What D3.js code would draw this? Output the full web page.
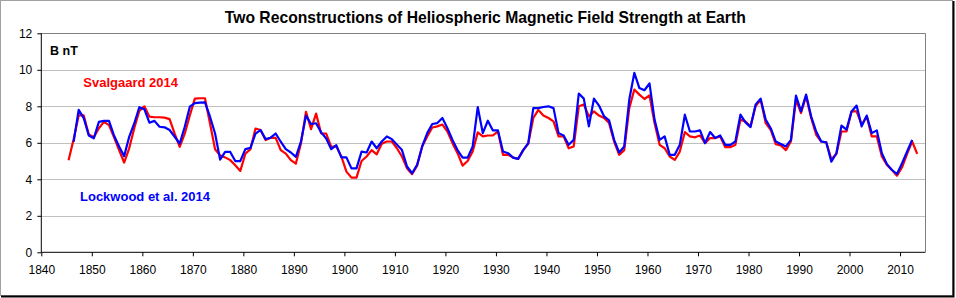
<!doctype html>
<html>
  <head>
    <meta charset="utf-8">
    <title>Heliospheric Magnetic Field</title>
    <script src="https://cdn.jsdelivr.net/npm/d3@7"></script>
    <style>
      body { margin: 0; background: #fff; }
      svg { display: block; font-family: Arial, "Liberation Sans", sans-serif; }
      .grid line { stroke: #c0c0c0; stroke-width: 1; }
      .axis text { font-size: 12px; fill: #000; }
      .axis path, .axis line { stroke: #000; }
    </style>
  </head>
  <body>
    <div id="chart"></div>
    <script>
      // annual values, plotted a bit after Jan 1 like the original sheet
      var svalgaardStart = 1845;
      var svalgaard = [
        5.05, 6.2, 7.5, 7.5, 6.45, 6.3, 6.8, 7.15, 6.97, 6.3,
        5.6, 4.92, 5.7, 6.8, 7.74, 8.0, 7.43, 7.4, 7.4, 7.38,
        7.3, 6.5, 5.78, 6.5, 7.5, 8.42, 8.44, 8.44, 7.06, 5.65,
        5.32, 5.2, 5.05, 4.77, 4.46, 5.4, 5.65, 6.78, 6.7, 6.15,
        6.28, 6.27, 5.6, 5.41, 5.05, 4.86, 5.96, 7.7, 6.75, 7.6,
        6.51, 6.5, 5.78, 5.8, 5.25, 4.42, 4.09, 4.09, 5.0, 5.25,
        5.6, 5.37, 5.95, 6.07, 6.07, 5.7, 5.25, 4.6, 4.28, 4.75,
        5.8, 6.35, 6.84, 6.9, 7.0, 6.62, 5.98, 5.43, 4.75, 5.0,
        5.52, 6.57, 6.35, 6.4, 6.4, 6.62, 5.34, 5.34, 5.19, 5.12,
        5.6, 5.95, 7.36, 7.8, 7.5, 7.36, 7.17, 6.35, 6.35, 5.7,
        5.8, 8.0, 8.1, 7.45, 7.72, 7.49, 7.36, 7.08, 6.07, 5.34,
        5.6, 7.9, 8.92, 8.64, 8.4, 8.6, 7.08, 5.89, 5.7, 5.25,
        5.06, 5.52, 6.59, 6.35, 6.3, 6.4, 5.98, 6.26, 6.26, 6.35,
        5.76, 5.76, 5.89, 7.27, 7.17, 6.9, 8.0, 8.37, 7.08, 6.71,
        5.93, 5.85, 5.6, 6.07, 8.37, 7.63, 8.55, 7.36, 6.44, 6.07,
        6.02, 5.1, 5.39, 6.62, 6.62, 7.72, 7.72, 6.99, 7.45, 6.35,
        6.35, 5.25, 4.79, 4.51, 4.2, 4.66, 5.39, 6.07, 5.39
      ];
      var lockwoodStart = 1846;
      var lockwood = [
        6.05, 7.8, 7.35, 6.4, 6.25, 7.15, 7.2, 7.2, 6.4,
        5.8, 5.27, 6.33, 7.06, 7.95, 7.84, 7.1, 7.2, 6.88, 6.85,
        6.7, 6.33, 5.96, 6.88, 7.98, 8.17, 8.2, 8.22, 7.43, 6.51,
        5.08, 5.5, 5.5, 5.0, 5.0, 5.65, 5.72, 6.5, 6.7, 6.2,
        6.28, 6.51, 6.06, 5.65, 5.47, 5.23, 6.06, 7.49, 7.03, 7.07,
        6.57, 6.24, 5.65, 5.87, 5.2, 5.2, 4.6, 4.6, 5.52, 5.47,
        6.07, 5.7, 6.07, 6.35, 6.2, 5.9, 5.6, 4.7, 4.33, 4.8,
        5.8, 6.53, 7.03, 7.08, 7.36, 6.8, 6.16, 5.6, 5.19, 5.19,
        5.8, 7.96, 6.53, 7.21, 6.68, 6.68, 5.52, 5.43, 5.19, 5.12,
        5.6, 5.98, 7.9, 7.9, 7.96, 8.0, 7.9, 6.53, 6.4, 5.89,
        6.16, 8.7, 8.42, 6.9, 8.42, 8.04, 7.45, 7.23, 6.16, 5.47,
        5.8, 8.37, 9.83, 9.0, 8.88, 9.25, 7.27, 6.16, 6.35, 5.34,
        5.34, 5.89, 7.54, 6.62, 6.62, 6.68, 5.98, 6.59, 6.26, 6.4,
        5.89, 5.89, 6.07, 7.54, 7.12, 6.86, 8.09, 8.42, 7.27, 6.8,
        6.07, 5.94, 5.8, 6.16, 8.59, 7.72, 8.64, 7.45, 6.62, 6.07,
        6.02, 4.97, 5.43, 6.94, 6.72, 7.72, 8.04, 6.9, 7.49, 6.53,
        6.68, 5.43, 4.83, 4.51, 4.29, 4.88, 5.52, 6.16
      ];
      var xTicks = [1840, 1850, 1860, 1870, 1880, 1890, 1900, 1910, 1920, 1930,
                    1940, 1950, 1960, 1970, 1980, 1990, 2000, 2010];
      var yTicks = [0, 2, 4, 6, 8, 10, 12];

      (function() {
        var width = 956, height = 298;
        var plotLeft = 41.3, plotRight = 925.3, plotTop = 33.3, plotBottom = 252.3;

        var svg = d3.select('#chart').append('svg')
          .attr('width', width)
          .attr('height', height);

        // chart area frame
        svg.append('rect')
          .attr('x', 0.5).attr('y', 0.5)
          .attr('width', 952).attr('height', 295)
          .attr('fill', '#fff').attr('stroke', '#a0a0a0');
        svg.append('path')
          .attr('d', 'M953.5,1V297.5M1,296.5H954')
          .attr('stroke', '#000').attr('stroke-width', 2).attr('fill', 'none');

        var x = d3.scaleLinear().domain([1840, 2015]).range([plotLeft, plotRight]);
        var y = d3.scaleLinear().domain([0, 12]).range([plotBottom, plotTop]);

        svg.append('g')
          .attr('class', 'grid')
          .selectAll('line')
          .data(yTicks.filter(function(d) { return d > 0; }))
          .enter().append('line')
          .attr('x1', plotLeft).attr('x2', plotRight)
          .attr('y1', function(d) { return Math.round(y(d)) + 0.5; })
          .attr('y2', function(d) { return Math.round(y(d)) + 0.5; });

        // grey plot border (top/right)
        svg.append('path')
          .attr('d', 'M' + plotLeft + ',' + (Math.round(plotTop) + 0.5) + 'H' + (Math.round(plotRight) + 0.5) + 'V' + plotBottom)
          .attr('stroke', '#808080').attr('fill', 'none');

        var line = d3.line()
          .x(function(d) { return x(d[0] + 0.4); })
          .y(function(d) { return y(d[1]); });

        var redPts = svalgaard.map(function(v, i) { return [svalgaardStart + i, v]; });
        var bluePts = lockwood.map(function(v, i) { return [lockwoodStart + i, v]; });

        svg.append('path')
          .datum(redPts)
          .attr('d', line)
          .attr('fill', 'none')
          .attr('stroke', '#ff0000')
          .attr('stroke-width', 2.2)
          .attr('stroke-linejoin', 'round');

        svg.append('path')
          .datum(bluePts)
          .attr('d', line)
          .attr('fill', 'none')
          .attr('stroke', '#0000ff')
          .attr('stroke-width', 2.2)
          .attr('stroke-linejoin', 'round');

        var yAxis = d3.axisLeft(y).tickValues(yTicks).tickSize(4).tickPadding(5).tickFormat(d3.format('d'));
        svg.append('g')
          .attr('class', 'axis')
          .attr('transform', 'translate(' + plotLeft + ',0)')
          .call(yAxis)
          .call(function(g) { g.select('.domain').attr('d', 'M0,' + plotTop + 'V' + plotBottom); });

        var xAxis = d3.axisBottom(x).tickValues(xTicks).tickSize(4).tickPadding(9).tickFormat(d3.format('d'));
        svg.append('g')
          .attr('class', 'axis')
          .attr('transform', 'translate(0,' + plotBottom + ')')
          .call(xAxis)
          .call(function(g) { g.select('.domain').attr('d', 'M' + plotLeft + ',0H' + plotRight); });

        svg.append('text')
          .attr('x', 485.3).attr('y', 22.7)
          .attr('text-anchor', 'middle')
          .style('font-size', '15.7px').style('font-weight', 'bold')
          .text('Two Reconstructions of Heliospheric Magnetic Field Strength at Earth');

        svg.append('text')
          .attr('x', 50).attr('y', 55)
          .style('font-size', '12.5px').style('font-weight', 'bold')
          .text('B nT');

        svg.append('text')
          .attr('x', 83.3).attr('y', 87)
          .attr('fill', '#ff0000')
          .style('font-size', '13px').style('font-weight', 'bold')
          .text('Svalgaard 2014');

        svg.append('text')
          .attr('x', 80).attr('y', 201)
          .attr('fill', '#0000ff')
          .style('font-size', '13px').style('font-weight', 'bold')
          .text('Lockwood et al. 2014');
      })();
    </script>
  </body>
</html>
